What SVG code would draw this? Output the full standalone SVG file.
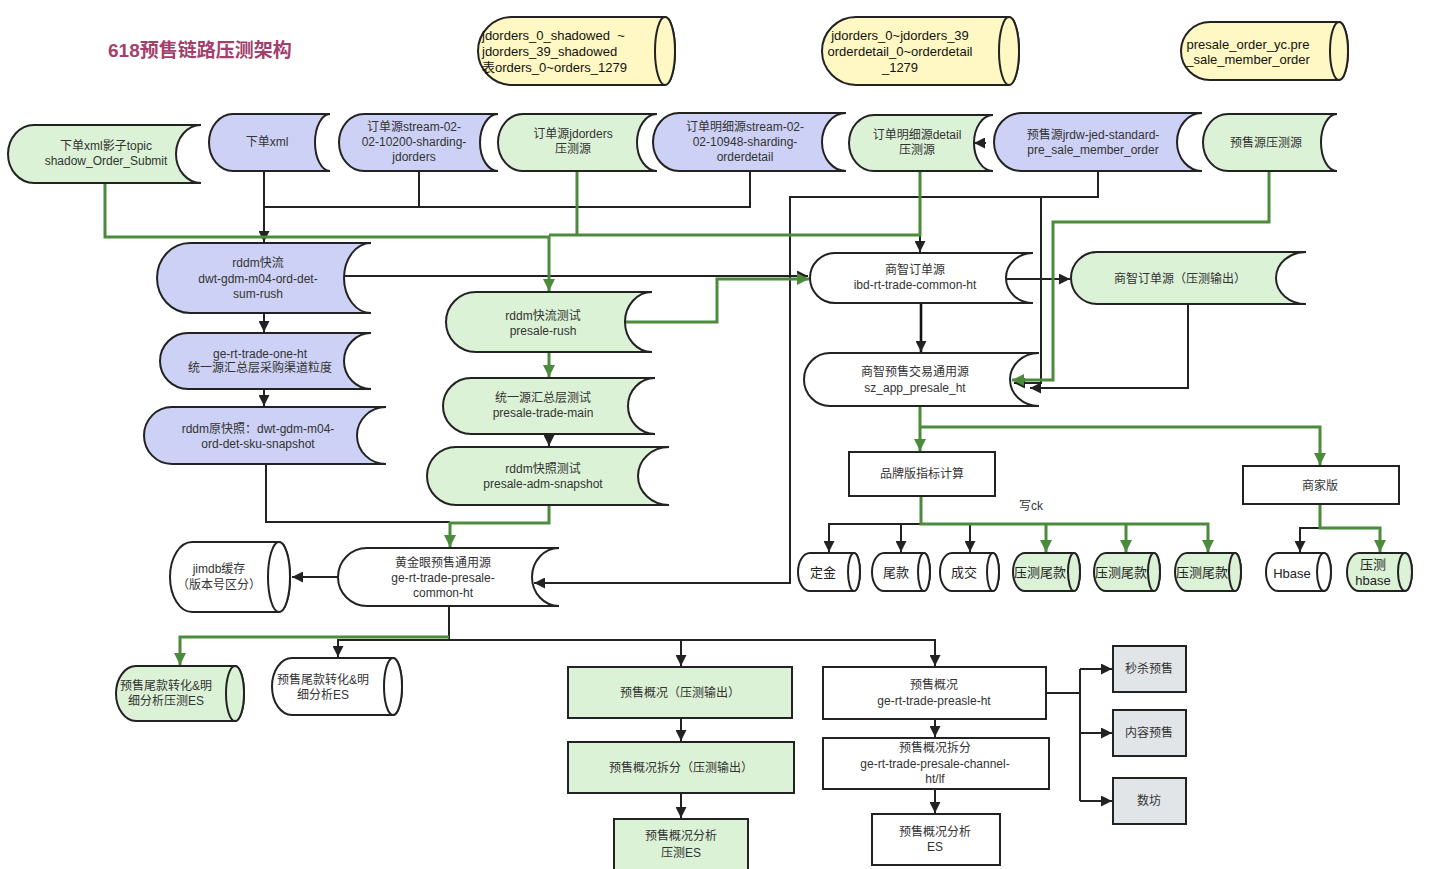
<svg xmlns="http://www.w3.org/2000/svg" width="1444" height="869" viewBox="0 0 1444 869">
<style>
text{font-family:"Liberation Sans","Noto Sans CJK SC",sans-serif;font-size:12px;fill:#333;text-anchor:middle}
.ty{font-size:13px;fill:#111}
.tl{text-anchor:start}
.tb{font-size:13px;fill:#222}
.title{font-size:19px;font-weight:bold;fill:#a33f6d;text-anchor:start}
.s{stroke:#222;stroke-width:2}
.blue{fill:#cdd1f5}
.green{fill:#dcf2d6}
.white{fill:#fff}
.yellow{fill:#fff8c4}
.gray{fill:#e1e5e8}
.c{fill:none;stroke:#222;stroke-width:2}
.c2{fill:none;stroke:#111;stroke-width:2.6}
.g{fill:none;stroke:#4b8b3b;stroke-width:3}
</style>
<defs>
<marker id="ab" viewBox="0 0 10 10" refX="10" refY="5" markerWidth="11" markerHeight="11" markerUnits="userSpaceOnUse" orient="auto"><path d="M0,0 L10,5 L0,10 z" fill="#222"/></marker>
<marker id="ag" viewBox="0 0 10 10" refX="10" refY="5" markerWidth="12" markerHeight="12" markerUnits="userSpaceOnUse" orient="auto"><path d="M0,0 L10,5 L0,10 z" fill="#4b8b3b"/></marker>
</defs>
<rect width="1444" height="869" fill="#fff"/>
<text class="title" x="108" y="57">618预售链路压测架构</text>

<g id="connectors">
<path class="c" d="M264,171 V242" marker-end="url(#ab)"/>
<path class="c" d="M419,171 V207 H264"/>
<path class="c" d="M750,171 V207 H419"/>
<path class="c" d="M264,313 V332" marker-end="url(#ab)"/>
<path class="c" d="M264,389 V406" marker-end="url(#ab)"/>
<path class="c" d="M266,464 V522 H450"/>
<path class="c" d="M549,434 V446" marker-end="url(#ab)"/>
<path class="c" d="M344,276 H808" marker-end="url(#ab)"/>
<path class="c" d="M1003,279 H1070" marker-end="url(#ab)"/>
<path class="c2" d="M921,303 V352" marker-end="url(#ab)"/>
<path class="c" d="M920,172 V252" marker-end="url(#ab)"/>
<path class="c" d="M1098,172 V197 H790 V583 H534" marker-end="url(#ab)"/>
<path class="c" d="M1041,197 V383 H1014" marker-end="url(#ab)"/>
<path class="c" d="M1188,304 V388 H1030" marker-end="url(#ab)"/>
<path class="c" d="M986,143 H974" marker-end="url(#ab)"/>
<path class="c" d="M920,524 H829 V552" marker-end="url(#ab)"/>
<path class="c" d="M901,524 V552" marker-end="url(#ab)"/>
<path class="c" d="M970,524 V552" marker-end="url(#ab)"/>
<path class="c" d="M1320,528 H1300 V552" marker-end="url(#ab)"/>
<path class="c" d="M338,577 H292" marker-end="url(#ab)"/>
<path class="c" d="M449,606 V640 H935 V666" marker-end="url(#ab)"/>
<path class="c" d="M681,640 V666" marker-end="url(#ab)"/>
<path class="c" d="M449,640 H338 V657" marker-end="url(#ab)"/>
<path class="c" d="M681,718 V741" marker-end="url(#ab)"/>
<path class="c" d="M681,793 V818" marker-end="url(#ab)"/>
<path class="c" d="M935,719 V737" marker-end="url(#ab)"/>
<path class="c" d="M935,789 V813" marker-end="url(#ab)"/>
<path class="c" d="M1046,693 H1080 M1080,669 V801"/>
<path class="c" d="M1080,669 H1112" marker-end="url(#ab)"/>
<path class="c" d="M1080,733 H1112" marker-end="url(#ab)"/>
<path class="c" d="M1080,801 H1112" marker-end="url(#ab)"/>

<path class="g" d="M105,183 V237 H549 V291" marker-end="url(#ag)"/>
<path class="g" d="M920,172 V235 H549"/>
<path class="g" d="M577,171 V235"/>
<path class="g" d="M549,352 V377" marker-end="url(#ag)"/>
<path class="g" d="M625,322 H717 V279 H809" marker-end="url(#ag)"/>
<path class="g" d="M549,505 V523 H450 V547" marker-end="url(#ag)"/>
<path class="g" d="M1269,172 V222 H1053 V380 H1012" marker-end="url(#ag)"/>
<path class="g" d="M920,406 V451" marker-end="url(#ag)"/>
<path class="g" d="M920,427 H1320 V465" marker-end="url(#ag)"/>
<path class="g" d="M921,496 V524 H1208 V552" marker-end="url(#ag)"/>
<path class="g" d="M1046,524 V552" marker-end="url(#ag)"/>
<path class="g" d="M1126,524 V552" marker-end="url(#ag)"/>
<path class="g" d="M1320,504 V528 H1380 V552" marker-end="url(#ag)"/>
<path class="g" d="M449,637 H180 V665" marker-end="url(#ag)"/>
</g>

<g id="cylA"><path class="s yellow" d="M512,17 H665 A10,34 0 0 1 665,85 H512 A34,34 0 0 1 512,17Z"/><ellipse class="s yellow" cx="665" cy="51" rx="10" ry="34"/>
<text class="ty tl" x="482" y="40">jdorders_0_shadowed&#160;&#160;~</text><text class="ty tl" x="482" y="56">jdorders_39_shadowed</text><text class="ty tl" x="482" y="72">表orders_0~orders_1279</text></g>
<g id="cylB"><path class="s yellow" d="M856,17 H1009 A10,34 0 0 1 1009,85 H856 A34,34 0 0 1 856,17Z"/><ellipse class="s yellow" cx="1009" cy="51" rx="10" ry="34"/>
<text class="ty" x="900" y="40">jdorders_0~jdorders_39</text><text class="ty" x="900" y="56">orderdetail_0~orderdetail</text><text class="ty" x="900" y="72">_1279</text></g>
<g id="cylC"><path class="s yellow" d="M1210,22 H1339 A9,29 0 0 1 1339,80 H1210 A29,29 0 0 1 1210,22Z"/><ellipse class="s yellow" cx="1339" cy="51" rx="9" ry="29"/>
<text class="ty" x="1248" y="49">presale_order_yc.pre</text><text class="ty" x="1248" y="64">_sale_member_order</text></g>

<g id="n1"><path class="s green" d="M34,125 H201 A25,29 0 0 0 201,183 H34 A26,29 0 0 1 34,125Z"/><text x="106" y="150">下单xml影子topic</text><text x="106" y="165">shadow_Order_Submit</text></g>
<g id="n2"><path class="s blue" d="M233,114 H330 A15,28.5 0 0 0 330,171 H233 A24,28.5 0 0 1 233,114Z"/><text x="267" y="146">下单xml</text></g>
<g id="n3"><path class="s blue" d="M364,114 H498 A18,28.5 0 0 0 498,171 H364 A25,28.5 0 0 1 364,114Z"/><text x="414" y="131">订单源stream-02-</text><text x="414" y="146">02-10200-sharding-</text><text x="414" y="161">jdorders</text></g>
<g id="n4"><path class="s green" d="M523,114 H657 A20,28.5 0 0 0 657,171 H523 A25,28.5 0 0 1 523,114Z"/><text x="573" y="138">订单源jdorders</text><text x="573" y="153">压测源</text></g>
<g id="n5"><path class="s blue" d="M679,113 H846 A24,29 0 0 0 846,171 H679 A26,29 0 0 1 679,113Z"/><text x="745" y="131">订单明细源stream-02-</text><text x="745" y="146">02-10948-sharding-</text><text x="745" y="161">orderdetail</text></g>
<g id="n6"><path class="s green" d="M874,115 H993 A19,28 0 0 0 993,171 H874 A25,28 0 0 1 874,115Z"/><text x="917" y="139">订单明细源detail</text><text x="917" y="154">压测源</text></g>
<g id="n7"><path class="s blue" d="M1021,113 H1202 A25,29 0 0 0 1202,171 H1021 A27,29 0 0 1 1021,113Z"/><text x="1093" y="139">预售源jrdw-jed-standard-</text><text x="1093" y="154">pre_sale_member_order</text></g>
<g id="n8"><path class="s green" d="M1228,114 H1337 A16,28.5 0 0 0 1337,171 H1228 A25,28.5 0 0 1 1228,114Z"/><text x="1266" y="147">预售源压测源</text></g>

<g id="n9"><path class="s blue" d="M190,243 H371 A27,35 0 0 0 371,313 H190 A33,35 0 0 1 190,243Z"/><text x="258" y="267">rddm快流</text><text x="258" y="283">dwt-gdm-m04-ord-det-</text><text x="258" y="298">sum-rush</text></g>
<g id="n10"><path class="s blue" d="M188,333 H371 A27,28 0 0 0 371,389 H188 A28,28 0 0 1 188,333Z"/><text x="260" y="358">ge-rt-trade-one-ht</text><text x="260" y="372">统一源汇总层采购渠道粒度</text></g>
<g id="n11"><path class="s blue" d="M172,407 H386 A29,28.5 0 0 0 386,464 H172 A28,28.5 0 0 1 172,407Z"/><text x="258" y="433">rddm原快照：dwt-gdm-m04-</text><text x="258" y="448">ord-det-sku-snapshot</text></g>
<g id="n12"><path class="s green" d="M476,292 H652 A27,30 0 0 0 652,352 H476 A30,30 0 0 1 476,292Z"/><text x="543" y="320">rddm快流测试</text><text x="543" y="335">presale-rush</text></g>
<g id="n13"><path class="s green" d="M471,378 H655 A27,28 0 0 0 655,434 H471 A28,28 0 0 1 471,378Z"/><text x="543" y="402">统一源汇总层测试</text><text x="543" y="417">presale-trade-main</text></g>
<g id="n14"><path class="s green" d="M456,447 H669 A31,29 0 0 0 669,505 H456 A29,29 0 0 1 456,447Z"/><text x="543" y="473">rddm快照测试</text><text x="543" y="488">presale-adm-snapshot</text></g>

<g id="n15"><path class="s white" d="M835,253 H1033 A27,25 0 0 0 1033,303 H835 A25,25 0 0 1 835,253Z"/><text x="915" y="274">商智订单源</text><text x="915" y="289">ibd-rt-trade-common-ht</text></g>
<g id="n16"><path class="s green" d="M1097,252 H1306 A30,26 0 0 0 1306,304 H1097 A26,26 0 0 1 1097,252Z"/><text x="1180" y="283">商智订单源（压测输出）</text></g>
<g id="n17"><path class="s white" d="M830,353 H1039 A29,26.5 0 0 0 1039,406 H830 A26,26.5 0 0 1 830,353Z"/><text x="915" y="376">商智预售交易通用源</text><text x="915" y="392">sz_app_presale_ht</text></g>

<g id="n18"><rect class="s white" x="849" y="452" width="146" height="44"/><text x="922" y="478">品牌版指标计算</text></g>
<g id="n19"><rect class="s white" x="1243" y="466" width="156" height="38"/><text x="1320" y="490">商家版</text></g>
<text x="1031" y="510">写ck</text>

<g id="c1"><path class="s white" d="M810,553 H854 A6,19 0 0 1 854,591 H810 A12,19 0 0 1 810,553Z"/><ellipse class="s white" cx="854" cy="572" rx="6" ry="19"/><text class="tb" x="823" y="577">定金</text></g>
<g id="c2"><path class="s white" d="M884,553 H924 A6,19 0 0 1 924,591 H884 A12,19 0 0 1 884,553Z"/><ellipse class="s white" cx="924" cy="572" rx="6" ry="19"/><text class="tb" x="896" y="577">尾款</text></g>
<g id="c3"><path class="s white" d="M952,553 H993 A6,19 0 0 1 993,591 H952 A12,19 0 0 1 952,553Z"/><ellipse class="s white" cx="993" cy="572" rx="6" ry="19"/><text class="tb" x="964" y="577">成交</text></g>
<g id="c4"><path class="s green" d="M1025,553 H1074 A6,19 0 0 1 1074,591 H1025 A12,19 0 0 1 1025,553Z"/><ellipse class="s green" cx="1074" cy="572" rx="6" ry="19"/><text class="tb" x="1040" y="577">压测尾款</text></g>
<g id="c5"><path class="s green" d="M1106,553 H1154 A6,19 0 0 1 1154,591 H1106 A12,19 0 0 1 1106,553Z"/><ellipse class="s green" cx="1154" cy="572" rx="6" ry="19"/><text class="tb" x="1121" y="577">压测尾款</text></g>
<g id="c6"><path class="s green" d="M1187,553 H1235 A6,19 0 0 1 1235,591 H1187 A12,19 0 0 1 1187,553Z"/><ellipse class="s green" cx="1235" cy="572" rx="6" ry="19"/><text class="tb" x="1202" y="577">压测尾款</text></g>
<g id="c7"><path class="s white" d="M1278,553 H1324 A7,19 0 0 1 1324,591 H1278 A12,19 0 0 1 1278,553Z"/><ellipse class="s white" cx="1324" cy="572" rx="7" ry="19"/><text class="tb" x="1292" y="578">Hbase</text></g>
<g id="c8"><path class="s green" d="M1359,553 H1405 A7,19 0 0 1 1405,591 H1359 A12,19 0 0 1 1359,553Z"/><ellipse class="s green" cx="1405" cy="572" rx="7" ry="19"/><text class="tb" x="1373" y="569">压测</text><text class="tb" x="1373" y="585">hbase</text></g>

<g id="n20"><path class="s white" d="M192,542 H279 A11,35 0 0 1 279,612 H192 A22,35 0 0 1 192,542Z"/><ellipse class="s white" cx="279" cy="577" rx="11" ry="35"/><text x="219" y="573">jimdb缓存</text><text x="219" y="589">（版本号区分）</text></g>
<g id="n21"><path class="s white" d="M367,548 H559 A27,29 0 0 0 559,606 H367 A29,29 0 0 1 367,548Z"/><text x="443" y="567">黄金眼预售通用源</text><text x="443" y="582">ge-rt-trade-presale-</text><text x="443" y="597">common-ht</text></g>
<g id="n22"><path class="s green" d="M136,666 H235 A9,27.5 0 0 1 235,721 H136 A20,27.5 0 0 1 136,666Z"/><ellipse class="s green" cx="235" cy="693.5" rx="9" ry="27.5"/><text x="166" y="690">预售尾款转化&amp;明</text><text x="166" y="705">细分析压测ES</text></g>
<g id="n23"><path class="s white" d="M292,658 H393 A9,28.5 0 0 1 393,715 H292 A20,28.5 0 0 1 292,658Z"/><ellipse class="s white" cx="393" cy="686.5" rx="9" ry="28.5"/><text x="323" y="684">预售尾款转化&amp;明</text><text x="323" y="699">细分析ES</text></g>

<g id="n24"><rect class="s green" x="568" y="667" width="224" height="51"/><text x="680" y="697">预售概况（压测输出）</text></g>
<g id="n25"><rect class="s green" x="568" y="742" width="226" height="51"/><text x="681" y="772">预售概况拆分（压测输出）</text></g>
<g id="n26"><rect class="s green" x="614" y="819" width="134" height="56"/><text x="681" y="840">预售概况分析</text><text x="681" y="857">压测ES</text></g>
<g id="n27"><rect class="s white" x="823" y="667" width="223" height="52"/><text x="934" y="689">预售概况</text><text x="934" y="705">ge-rt-trade-preasle-ht</text></g>
<g id="n28"><rect class="s white" x="823" y="738" width="226" height="51"/><text x="935" y="752">预售概况拆分</text><text x="935" y="768">ge-rt-trade-presale-channel-</text><text x="935" y="783">ht/lf</text></g>
<g id="n29"><rect class="s white" x="872" y="814" width="128" height="51"/><text x="935" y="836">预售概况分析</text><text x="935" y="851">ES</text></g>
<g id="n30"><rect class="s gray" x="1113" y="646" width="73" height="46"/><text x="1149" y="673">秒杀预售</text></g>
<g id="n31"><rect class="s gray" x="1113" y="710" width="73" height="46"/><text x="1149" y="737">内容预售</text></g>
<g id="n32"><rect class="s gray" x="1113" y="778" width="73" height="46"/><text x="1149" y="805">数坊</text></g>
</svg>
